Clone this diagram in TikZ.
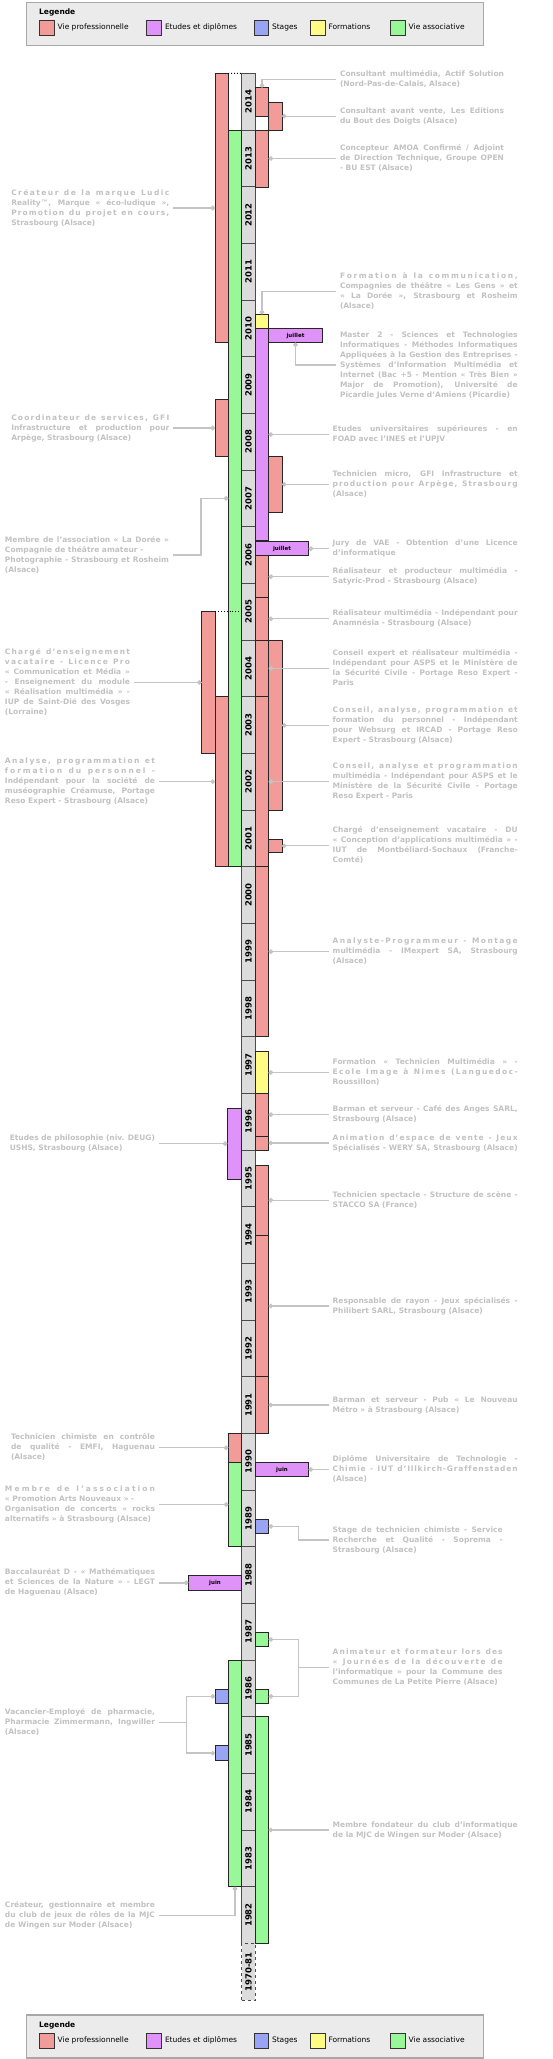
\documentclass[tikz,border=0pt]{standalone}
\usepackage{fontspec}
\setmainfont{DejaVu Sans}
\usepackage{graphicx}
\usetikzlibrary{fit,arrows.meta}
\definecolor{cpro}{HTML}{F19C99}
\definecolor{cetu}{HTML}{DF92F7}
\definecolor{cstg}{HTML}{99A4F5}
\definecolor{cfrm}{HTML}{FFFB84}
\definecolor{casso}{HTML}{98F898}
\definecolor{cyr}{HTML}{DCDCDC}
\definecolor{txtg}{HTML}{C2C2C2}
\definecolor{cong}{HTML}{C4C4C4}
\definecolor{legfill}{HTML}{EBEBEB}
\definecolor{legdraw}{HTML}{A8A8A8}
\hbadness=10000 \hfuzz=50pt \vbadness=10000
\newcommand\lblfont{\fontsize{7.5}{10}\selectfont\bfseries}
\newcommand\blk[2]{\vbox{\hsize=#1pt\relax\lblfont#2}}
\newcommand\J[1]{\setbox0=\hbox{#1}\ifdim\wd0>\hsize\hbox to\hsize{\strut\resizebox{\hsize}{!}{#1}}\else\hbox to\hsize{\strut#1}\fi}
\newcommand\N[1]{\hbox{\strut#1}}
\makeatletter
\newcommand\LS[1]{\hbox to\hsize{\strut\ls@go#1\relax}}
\def\ls@go#1{#1\ls@next}
\def\ls@next{\futurelet\ls@tok\ls@check}
\def\ls@check{%
  \ifx\ls@tok\relax\let\ls@do\ls@end
  \else\ifx\ls@tok\@sptoken\let\ls@do\ls@space
  \else\let\ls@do\ls@char\fi\fi
  \ls@do}
\def\ls@end\relax{}
\def\ls@char#1{\hfil#1\ls@next}
\expandafter\def\expandafter\ls@space\space{\hfil\space\ls@next}
\makeatother
\tikzset{
  bx/.style={draw=black!85, line width=0.8pt, inner sep=0pt, outer sep=0pt},
  pro/.style={bx, fill=cpro}, etu/.style={bx, fill=cetu}, stg/.style={bx, fill=cstg},
  frm/.style={bx, fill=cfrm}, asso/.style={bx, fill=casso},
  yrbox/.style={bx, fill=cyr, draw=black!70},
  yrtxt/.style={rotate=90, inner sep=0pt, font=\fontsize{8.5}{10}\selectfont\bfseries},
  tabtxt/.style={inner sep=0pt, font=\fontsize{5.5}{6}\selectfont\bfseries},
  lab/.style={inner xsep=4pt, inner ysep=0pt, outer sep=0pt, text=txtg},
  conn/.style={draw=cong, line width=1.3pt},
  dot/.style={conn, -{Circle[length=4.5pt,width=4.5pt]}},
  legbox/.style={draw=legdraw, line width=1.3pt, fill=legfill, inner sep=0pt, outer sep=0pt},
  sw/.style={draw=black!80, line width=0.8pt, inner sep=0pt, outer sep=0pt},
  legtxt/.style={anchor=west, inner sep=0pt, font=\fontsize{7.5}{9}\selectfont, text height=5.5pt, text depth=1.5pt},
  legtitle/.style={anchor=west, inner sep=0pt, font=\fontsize{7.5}{9}\selectfont\bfseries, text height=5.5pt, text depth=1.5pt}
}
\newcommand\bx[6][pro]{\node[#1, fit={(#3,#4)(#5,#6)}] (#2) {};}
\newcommand\mklegend[2]{%
\begin{scope}[shift={(0,#2)}]
\node[legbox, fit={(26.67,2.67)(483.33,45.67)}] (#1) {};
\node[legtitle] (#1t) at (39,12.7) {Legende};
\node[sw, fill=cpro, fit={(39,20.7)(54.33,35.7)}] (#1s1) {};
\node[legtxt] (#1l1) at (57.5,27.7) {Vie professionnelle};
\node[sw, fill=cetu, fit={(146.67,20.7)(161.67,35.7)}] (#1s2) {};
\node[legtxt] (#1l2) at (164.8,27.7) {Etudes et diplômes};
\node[sw, fill=cstg, fit={(254,20.7)(268.67,35.7)}] (#1s3) {};
\node[legtxt] (#1l3) at (271.8,27.7) {Stages};
\node[sw, fill=cfrm, fit={(310.33,20.7)(325.33,35.7)}] (#1s4) {};
\node[legtxt] (#1l4) at (328.3,27.7) {Formations};
\node[sw, fill=casso, fit={(390.67,20.7)(405.67,35.7)}] (#1s5) {};
\node[legtxt] (#1l5) at (408.5,27.7) {Vie associative};
\end{scope}}
\def\la{241.67}\def\lb{228.33}\def\lc{215}\def\ld{201.67}
\def\ra{255.33}\def\rb{268.67}\def\rc{282}
\begin{document}
\begin{tikzpicture}[x=1pt,y=-1pt]
\fill[white] (0,0) rectangle (553,2059);
\useasboundingbox (0,0) rectangle (553,2059);
\mklegend{legA}{0}
\mklegend{legB}{2012.33}
% years
\foreach \yy [count=\i from 0] in {2014,2013,...,1982}{
  \node[yrbox, fit={(\la,{73.33+56.667*\i})(\ra,{130+56.667*\i})}] (y\yy) {};
  \node[yrtxt] (t\yy) at (y\yy.center) {\yy};
}
\node[yrbox, dashed, fit={(\la,1943.33)(\ra,2000)}] (y1970) {};
\node[yrtxt] (t1970) at (y1970.center) {1970-81};
% left column 3
\bx{bLorr}{\ld}{611.67}{\lc}{753.33}
% left column 2
\bx{bLudic}{\lc}{73.33}{\lb}{342.67}
\bx{bCoord}{\lc}{399.33}{\lb}{456.67}
\bx{bCrea}{\lc}{696.67}{\lb}{866.67}
\bx[stg]{bStgC}{\lc}{1689.33}{\lb}{1703.33}
\bx[stg]{bStgD}{\lc}{1745.67}{\lb}{1760.33}
% left column 1
\bx[asso]{bDoree}{\lb}{130}{\la}{866.67}
\bx[etu]{bPhilo}{227.33}{1108.33}{\la}{1179}
\bx{bChim}{\lb}{1433.33}{\la}{1462.33}
\bx[asso]{bPromo}{\lb}{1462.33}{\la}{1546.67}
\bx[etu]{bBac}{188.33}{1575.67}{\la}{1590}
\bx[asso]{bJeux}{\lb}{1660.67}{\la}{1886.67}
% right column 1
\bx{bActif}{\ra}{87.67}{\rb}{116}
\bx{bAmoa}{\ra}{130}{\rb}{187}
\bx[frm]{bForm}{\ra}{314.33}{\rb}{328.33}
\bx[etu]{bMcol}{\ra}{328.33}{\rb}{540.67}
\bx[etu]{bMtab}{\rb}{328.33}{322.33}{342.67}
\bx[etu]{bVae}{\ra}{541.67}{308.67}{555.67}
\bx{bSaty}{\ra}{555.67}{\rb}{597.67}
\bx{bAnam}{\ra}{597.67}{\rb}{640}
\bx{bExpert}{\ra}{640}{\rb}{696.67}
\bx{bAsps}{\ra}{696.67}{\rb}{866.67}
\bx{bImex}{\ra}{866.67}{\rb}{1036.67}
\bx[frm]{bTechmm}{\ra}{1051.67}{\rb}{1093.33}
\bx{bAnges}{\ra}{1093.33}{\rb}{1136}
\bx{bWery}{\ra}{1136}{\rb}{1150}
\bx{bStacco}{\ra}{1165}{\rb}{1235.33}
\bx{bPhil}{\ra}{1235.33}{\rb}{1376.67}
\bx{bMetro}{\ra}{1376.67}{\rb}{1433.33}
\bx[etu]{bDut}{\ra}{1462.33}{308.67}{1476.67}
\bx[stg]{bSoprema}{\ra}{1519.33}{\rb}{1533.33}
\bx[asso]{bAnimA}{\ra}{1632.33}{\rb}{1646.67}
\bx[asso]{bAnimB}{\ra}{1689.33}{\rb}{1703.33}
\bx[asso]{bFond}{\ra}{1716.67}{\rb}{1943.33}
% right column 2
\bx{bBdd}{\rb}{102.33}{\rc}{130}
\bx{bMicro}{\rb}{456}{\rc}{512.67}
\bx{bWeb}{\rb}{640.67}{\rc}{810}
\bx{bMont}{\rb}{839}{\rc}{852.67}
% tab texts
\node[tabtxt] (jMaster) at (bMtab.center) {juillet};
\node[tabtxt] (jVae) at (bVae.center) {juillet};
\node[tabtxt] (jDut) at (bDut.center) {juin};
\node[tabtxt] (jBac) at (bBac.center) {juin};
% dotted links
\draw[dotted, line width=0.9pt] (bLudic.north east) -- (y2014.north west);
\draw[dotted, line width=0.9pt] (bLorr.north east) -- (bLorr.north east -| y2005.west);
% right labels group 1
\node[lab, anchor=west] (tActif) at (336,79.3) {\blk{164}{\J{Consultant multimédia, Actif Solution}\N{(Nord-Pas-de-Calais, Alsace)}}};
\node[lab, anchor=west] (tBdd) at (336,116.17) {\blk{164}{\J{Consultant avant vente, Les Editions}\N{du Bout des Doigts (Alsace)}}};
\node[lab, anchor=west] (tAmoa) at (336,158.5) {\blk{164}{\J{Concepteur AMOA Confirmé / Adjoint}\J{de Direction Technique, Groupe OPEN}\N{- BU EST (Alsace)}}};
\node[lab, anchor=west] (tForm) at (336,291.7) {\blk{177.7}{\LS{Formation à la communication,}\J{Compagnies de théâtre « Les Gens » et}\J{« La Dorée », Strasbourg et Rosheim}\N{(Alsace)}}};
\node[lab, anchor=west] (tMaster) at (336,365) {\blk{177.7}{\J{Master 2 - Sciences et Technologies}\J{Informatiques - Méthodes Informatiques}\J{Appliquées à la Gestion des Entreprises -}\J{Systèmes d'Information Multimédia et}\J{Internet (Bac +5 - Mention « Très Bien »}\J{Major de Promotion), Université de}\N{Picardie Jules Verne d'Amiens (Picardie)}}};
% right labels group 2
\node[lab, anchor=west] (tUniv) at (328.7,434.5) {\blk{185}{\J{Etudes universitaires supérieures - en}\N{FOAD avec l'INES et l'UPJV}}};
\node[lab, anchor=west] (tMicro) at (328.7,484.33) {\blk{185}{\J{Technicien micro, GFI Infrastructure et}\LS{production pour Arpège, Strasbourg}\N{(Alsace)}}};
\node[lab, anchor=west] (tVae) at (328.7,548.67) {\blk{185}{\J{Jury de VAE - Obtention d'une Licence}\N{d'informatique}}};
\node[lab, anchor=west] (tSaty) at (328.7,576.67) {\blk{185}{\J{Réalisateur et producteur multimédia -}\N{Satyric-Prod  - Strasbourg (Alsace)}}};
\node[lab, anchor=west] (tAnam) at (328.7,618.83) {\blk{185}{\J{Réalisateur multimédia - Indépendant pour}\N{Anamnésia  - Strasbourg (Alsace)}}};
\node[lab, anchor=west] (tExpert) at (328.7,668.33) {\blk{185}{\J{Conseil expert et réalisateur multimédia -}\J{Indépendant pour ASPS et le Ministère de}\J{la Sécurité Civile - Portage Reso Expert -}\N{Paris}}};
\node[lab, anchor=west] (tWeb) at (328.7,725.33) {\blk{185}{\LS{Conseil, analyse, programmation et}\J{formation du personnel - Indépendant}\J{pour Websurg et IRCAD - Portage Reso}\N{Expert - Strasbourg (Alsace)}}};
\node[lab, anchor=west] (tAsps) at (328.7,781.67) {\blk{185}{\LS{Conseil, analyse et programmation}\J{multimédia - Indépendant pour ASPS et le}\J{Ministère de la Sécurité Civile - Portage}\N{Reso Expert - Paris}}};
\node[lab, anchor=west] (tMont) at (328.7,845.83) {\blk{185}{\J{Chargé d’enseignement vacataire - DU}\J{« Conception d’applications multimédia » -}\J{IUT de Montbéliard-Sochaux (Franche-}\N{Comté)}}};
\node[lab, anchor=west] (tImex) at (328.7,951.67) {\blk{185}{\LS{Analyste-Programmeur - Montage}\J{multimédia - IMexpert SA, Strasbourg}\N{(Alsace)}}};
\node[lab, anchor=west] (tTechmm) at (328.7,1072.5) {\blk{185}{\J{Formation « Technicien Multimédia » -}\LS{Ecole Image à Nimes (Languedoc-}\N{Roussillon)}}};
\node[lab, anchor=west] (tAnges) at (328.7,1114.67) {\blk{185}{\J{Barman et serveur - Café des Anges SARL,}\N{Strasbourg (Alsace)}}};
\node[lab, anchor=west] (tWery) at (328.7,1143) {\blk{185}{\LS{Animation d’espace de vente - Jeux}\J{Spécialisés - WERY SA, Strasbourg (Alsace)}}};
\node[lab, anchor=west] (tStacco) at (328.7,1200.17) {\blk{185}{\J{Technicien spectacle - Structure de scène -}\N{STACCO SA (France)}}};
\node[lab, anchor=west] (tPhil) at (328.7,1306) {\blk{185}{\J{Responsable de rayon - Jeux spécialisés -}\N{Philibert SARL, Strasbourg (Alsace)}}};
\node[lab, anchor=west] (tMetro) at (328.7,1405) {\blk{185}{\J{Barman et serveur - Pub « Le Nouveau}\N{Métro » à Strasbourg (Alsace)}}};
\node[lab, anchor=west] (tDut) at (328.7,1469.5) {\blk{185}{\J{Diplôme Universitaire de Technologie -}\LS{Chimie - IUT d'Illkirch-Graffenstaden}\N{(Alsace)}}};
\node[lab, anchor=west] (tSoprema) at (328.7,1540) {\blk{170}{\J{Stage de technicien chimiste - Service}\J{Recherche et Qualité - Soprema -}\N{Strasbourg (Alsace)}}};
\node[lab, anchor=west] (tAnim) at (328.7,1667.7) {\blk{170}{\LS{Animateur et formateur lors des}\LS{« Journées de la découverte de}\J{l’informatique » pour la Commune des}\N{Communes de La Petite Pierre (Alsace)}}};
\node[lab, anchor=west] (tFond) at (328.7,1830) {\blk{185}{\J{Membre fondateur du club d'informatique}\N{de la MJC de Wingen sur Moder (Alsace)}}};
% left labels
\node[lab, anchor=east] (tLudic) at (173.3,208) {\blk{158}{\LS{Créateur de la marque Ludic}\J{Reality™, Marque « éco-ludique »,}\LS{Promotion du projet en cours,}\N{Strasbourg (Alsace)}}};
\node[lab, anchor=east] (tCoord) at (173.3,428) {\blk{158}{\LS{Coordinateur de services, GFI}\J{Infrastructure et production pour}\N{Arpège, Strasbourg (Alsace)}}};
\node[lab, anchor=east] (tDoree) at (173,555) {\blk{164}{\J{Membre de l'association  « La Dorée »}\N{Compagnie de théâtre amateur -}\J{Photographie - Strasbourg et Rosheim}\N{(Alsace)}}};
\node[lab, anchor=east] (tLorr) at (134,682.5) {\blk{125}{\LS{Chargé d’enseignement}\LS{vacataire - Licence Pro}\J{« Communication et Média »}\J{- Enseignement du module}\J{« Réalisation multimédia » -}\J{IUP de Saint-Dié des Vosges}\N{(Lorraine)}}};
\node[lab, anchor=east] (tCrea) at (159,781.67) {\blk{150}{\LS{Analyse, programmation et}\LS{formation du personnel -}\J{Indépendant pour la société de}\J{muséographie  Créamuse, Portage}\N{Reso Expert - Strasbourg (Alsace)}}};
\node[lab, anchor=east] (tPhilo) at (159,1143.67) {\blk{150}{\N{Etudes de philosophie (niv. DEUG)}\N{USHS, Strasbourg (Alsace)}}};
\node[lab, anchor=east] (tChim) at (159,1447.83) {\blk{144}{\J{Technicien chimiste en contrôle}\J{de qualité - EMFI, Haguenau}\N{(Alsace)}}};
\node[lab, anchor=east] (tPromo) at (159,1504.5) {\blk{150}{\LS{Membre de l'association}\N{« Promotion Arts Nouveaux » -}\J{Organisation de concerts « rocks}\N{alternatifs » à Strasbourg (Alsace)}}};
\node[lab, anchor=east] (tBac) at (159,1582.83) {\blk{150}{\J{Baccalauréat D - « Mathématiques}\J{et Sciences de la Nature » - LEGT}\N{de Haguenau (Alsace)}}};
\node[lab, anchor=east] (tVac) at (159,1722.7) {\blk{150}{\J{Vacancier-Employé de pharmacie,}\J{Pharmacie Zimmermann, Ingwiller}\N{(Alsace)}}};
\node[lab, anchor=east] (tJeux) at (159,1915.3) {\blk{150}{\J{Créateur, gestionnaire et membre}\J{du club de jeux de rôles de la MJC}\N{de Wingen sur Moder (Alsace)}}};
% connectors right
\draw[dot] (tActif.west) -| (bActif.north);
\draw[dot] (tBdd.west) -- (tBdd.west -| bBdd.east);
\draw[dot] (tAmoa.west) -- (tAmoa.west -| bAmoa.east);
\draw[dot] (tForm.west) -| (bForm.north);
\draw[dot] (tMaster.west) -| (bMtab.south);
\draw[dot] (tUniv.west) -- (tUniv.west -| bMcol.east);
\draw[dot] (tMicro.west) -- (tMicro.west -| bMicro.east);
\draw[dot] (tVae.west) -- (tVae.west -| bVae.east);
\draw[dot] (tSaty.west) -- (tSaty.west -| bSaty.east);
\draw[dot] (tAnam.west) -- (tAnam.west -| bAnam.east);
\draw[dot] (tExpert.west) -- (tExpert.west -| bExpert.east);
\draw[dot] (tWeb.west) -- (tWeb.west -| bWeb.east);
\draw[dot] (tAsps.west) -- (tAsps.west -| bAsps.east);
\draw[dot] (tMont.west) -- (tMont.west -| bMont.east);
\draw[dot] (tImex.west) -- (tImex.west -| bImex.east);
\draw[dot] (tTechmm.west) -- (tTechmm.west -| bTechmm.east);
\draw[dot] (tAnges.west) -- (tAnges.west -| bAnges.east);
\draw[dot] (tWery.west) -- (tWery.west -| bWery.east);
\draw[dot] (tStacco.west) -- (tStacco.west -| bStacco.east);
\draw[dot] (tPhil.west) -- (tPhil.west -| bPhil.east);
\draw[dot] (tMetro.west) -- (tMetro.west -| bMetro.east);
\draw[dot] (tDut.west) -- (tDut.west -| bDut.east);
\draw[conn] (tSoprema.west) -- ++(-30.4,0) coordinate (jS);
\draw[dot] (jS) |- (bSoprema.east);
\draw[conn] (tAnim.west) -- ++(-30.4,0) coordinate (jA);
\draw[dot] (jA) |- (bAnimA.east);
\draw[dot] (jA) |- (bAnimB.east);
\draw[dot] (tFond.west) -- (tFond.west -| bFond.east);
% connectors left
\draw[dot] (tLudic.east) -- (tLudic.east -| bLudic.west);
\draw[dot] (tCoord.east) -- (tCoord.east -| bCoord.west);
\draw[dot] (tDoree.east) -- ++(28,0) |- (bDoree.west);
\draw[dot] (tLorr.east) -- (tLorr.east -| bLorr.west);
\draw[dot] (tCrea.east) -- (tCrea.east -| bCrea.west);
\draw[dot] (tPhilo.east) -- (tPhilo.east -| bPhilo.west);
\draw[dot] (tChim.east) -- (tChim.east -| bChim.west);
\draw[dot] (tPromo.east) -- (tPromo.east -| bPromo.west);
\draw[dot] (tBac.east) -- (tBac.east -| bBac.west);
\draw[conn] (tVac.east) -- ++(27.7,0) coordinate (jV);
\draw[dot] (jV) |- (bStgC.west);
\draw[dot] (jV) |- (bStgD.west);
\draw[dot] (tJeux.east) -| (bJeux.south);
\end{tikzpicture}
\end{document}
